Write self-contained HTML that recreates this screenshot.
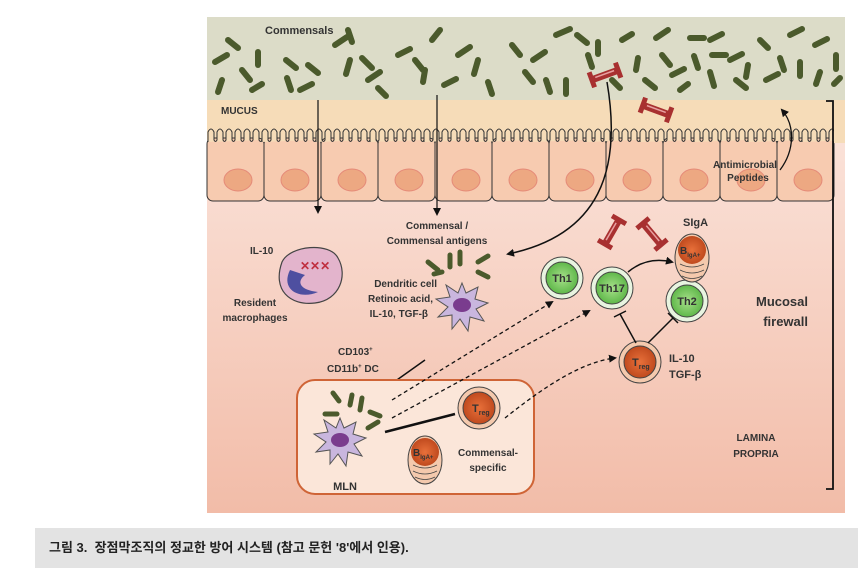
<!DOCTYPE html>
<html><head><meta charset="utf-8"><style>
html,body{margin:0;padding:0;background:#fff;width:858px;height:569px;overflow:hidden}
svg{position:absolute;left:0;top:0}
text{font-family:"Liberation Sans","Noto Sans CJK KR",sans-serif;font-weight:bold;fill:#333}
.cap{position:absolute;left:35px;top:528px;width:823px;height:40px;background:#e3e3e3;font-family:"Liberation Sans","Noto Sans CJK KR",sans-serif;font-size:13px;font-weight:bold;color:#222;line-height:40px;padding-left:14px;box-sizing:border-box}
</style></head><body>
<svg width="858" height="569" viewBox="0 0 858 569">
<defs>
<linearGradient id="lp" x1="0" y1="0" x2="0" y2="1"><stop offset="0" stop-color="#fdeee8"/><stop offset="1" stop-color="#f2bca8"/></linearGradient>
<radialGradient id="gr" cx="0.5" cy="0.5" r="0.5"><stop offset="0" stop-color="#a8e08a"/><stop offset="1" stop-color="#5fb84a"/></radialGradient>
<radialGradient id="or" cx="0.5" cy="0.5" r="0.5"><stop offset="0" stop-color="#e8703a"/><stop offset="1" stop-color="#c04a1e"/></radialGradient>
<clipPath id="clip"><rect x="207" y="17" width="638" height="496"/></clipPath>
<marker id="ah" markerWidth="8" markerHeight="8" refX="6" refY="4" orient="auto" markerUnits="userSpaceOnUse"><path d="M0,0 L8,4 L0,8 Z" fill="#111"/></marker>
<g id="ab"><path d="M-14,0 L14,0" stroke="#a83030" stroke-width="7"/><path d="M-14,-8 L-14,8 M14,-8 L14,8" stroke="#a83030" stroke-width="5"/><path d="M-10,-1 L10,-1" stroke="#e8a0a0" stroke-width="1.5"/></g>
<g id="dc"><path d="M0,-22 L4,-12 L16,-18 L13,-6 L26,-2 L14,4 L22,16 L8,12 L6,26 L-2,14 L-10,24 L-10,10 L-24,12 L-14,2 L-26,-6 L-12,-8 L-16,-20 L-4,-12 Z" fill="#c9b6de" stroke="#555" stroke-width="1"/><ellipse cx="0" cy="0" rx="9" ry="7" fill="#7a3c8e"/></g>
<path id="vil" d="M0,142 l0,-10 q3,-6 6,0 l0,8 q1.5,3 3,0 l0,-8 q3,-6 6,0 l0,8 q1.5,3 3,0 l0,-8 q3,-6 6,0 l0,8 q1.5,3 3,0 l0,-8 q3,-6 6,0 l0,8 q1.5,3 3,0 l0,-8 q3,-6 6,0 l0,8 q1.5,3 3,0 l0,-8 q3,-6 6,0 l0,8 q1.5,3 3,0" fill="#f6dcb8" stroke="#333" stroke-width="1"/>
</defs>
<rect x="207" y="17" width="638" height="496" fill="url(#lp)"/>
<rect x="207" y="17" width="638" height="84" fill="#dcdcc8"/>
<rect x="207" y="100" width="638" height="40" fill="#f6dcb8"/>
<g fill="#f7cbb0" stroke="#333" stroke-width="1">
<rect x="207" y="138" width="57" height="63" rx="6"/><rect x="264" y="138" width="57" height="63" rx="6"/><rect x="321" y="138" width="57" height="63" rx="6"/><rect x="378" y="138" width="57" height="63" rx="6"/><rect x="435" y="138" width="57" height="63" rx="6"/><rect x="492" y="138" width="57" height="63" rx="6"/><rect x="549" y="138" width="57" height="63" rx="6"/><rect x="606" y="138" width="57" height="63" rx="6"/><rect x="663" y="138" width="57" height="63" rx="6"/><rect x="720" y="138" width="57" height="63" rx="6"/><rect x="777" y="138" width="57" height="63" rx="6"/>
</g>
<g clip-path="url(#clip)">
<use href="#vil" x="208"/><use href="#vil" x="262"/><use href="#vil" x="316"/><use href="#vil" x="370"/><use href="#vil" x="424"/><use href="#vil" x="478"/><use href="#vil" x="532"/><use href="#vil" x="586"/><use href="#vil" x="640"/><use href="#vil" x="694"/><use href="#vil" x="748"/><use href="#vil" x="802"/>
</g>
<rect x="834" y="128" width="11" height="15" fill="#f6dcb8"/>
<g fill="#eda882" stroke="#e58a78" stroke-width="1">
<ellipse cx="238" cy="180" rx="14" ry="11"/><ellipse cx="295" cy="180" rx="14" ry="11"/><ellipse cx="352" cy="180" rx="14" ry="11"/><ellipse cx="409" cy="180" rx="14" ry="11"/><ellipse cx="466" cy="180" rx="14" ry="11"/><ellipse cx="523" cy="180" rx="14" ry="11"/><ellipse cx="580" cy="180" rx="14" ry="11"/><ellipse cx="637" cy="180" rx="14" ry="11"/><ellipse cx="694" cy="180" rx="14" ry="11"/><ellipse cx="751" cy="180" rx="14" ry="11"/><ellipse cx="808" cy="180" rx="14" ry="11"/>
</g>
<g stroke="#4b5a2c" stroke-width="6" stroke-linecap="round">
<path d="M228,40 l10,8"/><path d="M215,62 l12,-7"/><path d="M222,80 l-4,12"/><path d="M242,70 l8,10"/><path d="M258,52 l0,13"/><path d="M262,84 l-10,6"/><path d="M286,60 l10,8"/><path d="M287,78 l4,12"/><path d="M308,65 l10,8"/><path d="M300,90 l12,-6"/><path d="M335,45 l12,-8"/><path d="M348,30 l4,12"/><path d="M350,60 l-4,14"/><path d="M362,58 l10,10"/><path d="M368,80 l12,-8"/><path d="M378,88 l8,8"/><path d="M398,55 l12,-6"/><path d="M415,60 l8,10"/><path d="M425,70 l-2,12"/><path d="M432,40 l8,-10"/><path d="M444,85 l12,-6"/><path d="M458,55 l12,-8"/><path d="M478,60 l-4,14"/><path d="M488,82 l4,12"/><path d="M512,45 l8,10"/><path d="M525,72 l8,10"/><path d="M533,60 l12,-8"/><path d="M546,80 l4,12"/><path d="M556,35 l14,-6"/><path d="M566,80 l0,14"/><path d="M577,35 l10,8"/><path d="M588,55 l4,12"/><path d="M598,42 l0,12"/><path d="M612,80 l8,8"/><path d="M622,40 l10,-6"/><path d="M638,58 l-2,12"/><path d="M645,80 l10,8"/><path d="M656,38 l12,-8"/><path d="M662,55 l8,10"/><path d="M672,75 l12,-6"/><path d="M680,90 l8,-6"/><path d="M690,38 l14,0"/><path d="M694,56 l4,12"/><path d="M710,40 l12,-6"/><path d="M712,55 l14,0"/><path d="M710,72 l4,14"/><path d="M730,60 l12,-6"/><path d="M736,80 l10,8"/><path d="M748,65 l-2,12"/><path d="M760,40 l8,8"/><path d="M766,80 l12,-6"/><path d="M780,58 l4,12"/><path d="M790,35 l12,-6"/><path d="M800,62 l0,14"/><path d="M815,45 l12,-6"/><path d="M820,72 l-4,12"/><path d="M836,55 l0,14"/><path d="M834,84 l6,-6"/>
</g>
<use href="#ab" transform="translate(605,75) rotate(-20)"/>
<use href="#ab" transform="translate(656,110) rotate(20)"/>
<use href="#ab" transform="translate(612,232) rotate(-60)"/>
<use href="#ab" transform="translate(652,234) rotate(50)"/>
<text x="265" y="34" font-size="11">Commensals</text>
<text x="221" y="114" font-size="10">MUCUS</text>
<path d="M318,100 L318,212" stroke="#111" stroke-width="1.2" marker-end="url(#ah)"/>
<path d="M437,95 L437,214" stroke="#111" stroke-width="1.2" marker-end="url(#ah)"/>
<path d="M607,82 C622,170 600,235 508,254" fill="none" stroke="#111" stroke-width="1.5" marker-end="url(#ah)"/>
<path d="M780,170 C795,150 795,125 782,110" fill="none" stroke="#111" stroke-width="1.3" marker-end="url(#ah)"/>
<text x="745" y="168" font-size="10" text-anchor="middle">Antimicrobial</text>
<text x="748" y="181" font-size="10" text-anchor="middle">Peptides</text>
<text x="437" y="229" font-size="10" text-anchor="middle">Commensal /</text>
<text x="437" y="244" font-size="10" text-anchor="middle">Commensal antigens</text>
<text x="683" y="226" font-size="11">SIgA</text>
<path d="M282,262 C290,245 330,242 338,258 C348,275 340,300 315,303 C290,306 272,290 282,262 Z" fill="#e3b4cc" stroke="#444" stroke-width="1.2"/>
<path d="M290,270 C280,290 300,300 318,292 C300,290 296,282 305,275 Z" fill="#4e4fa0"/>
<text x="300" y="270" font-size="12" style="fill:#c03040">✕✕✕</text>
<text x="250" y="254" font-size="10">IL-10</text>
<text x="255" y="306" font-size="10" text-anchor="middle">Resident</text>
<text x="255" y="321" font-size="10" text-anchor="middle">macrophages</text>
<use href="#dc" transform="translate(462,305)"/>
<g stroke="#4b5a2c" stroke-width="5" stroke-linecap="round"><path d="M428,262 l10,8"/><path d="M450,255 l0,12"/><path d="M460,252 l0,12"/><path d="M478,262 l10,-6"/><path d="M478,272 l10,5"/><path d="M442,272 l-8,2"/></g>
<text x="437" y="287" font-size="10" text-anchor="end">Dendritic cell</text>
<text x="433" y="302" font-size="10" text-anchor="end">Retinoic acid,</text>
<text x="428" y="317" font-size="10" text-anchor="end">IL-10, TGF-β</text>
<text x="338" y="355" font-size="10">CD103<tspan font-size="6" dy="-4">+</tspan></text>
<text x="327" y="372" font-size="10">CD11b<tspan font-size="6" dy="-4">+</tspan><tspan dy="4"> DC</tspan></text>
<path d="M425,360 L380,392" stroke="#111" stroke-width="1.5" marker-end="url(#ah)"/>
<rect x="297" y="380" width="237" height="114" rx="18" fill="#fbe6d9" stroke="#cf6436" stroke-width="2"/>
<use href="#dc" transform="translate(340,440)"/>
<g stroke="#4b5a2c" stroke-width="5" stroke-linecap="round"><path d="M333,393 l6,8"/><path d="M350,405 l2,-10"/><path d="M362,398 l-2,12"/><path d="M325,414 l12,0"/><path d="M370,412 l10,4"/><path d="M368,428 l10,-6"/></g>
<text x="345" y="490" font-size="11" text-anchor="middle">MLN</text>
<path d="M385,432 L455,414" stroke="#111" stroke-width="2.5"/>
<circle cx="479" cy="408" r="21" fill="#f4c9ad" stroke="#444" stroke-width="1"/><circle cx="479" cy="408" r="16" fill="url(#or)" stroke="#444" stroke-width="1"/>
<text x="472" y="412" font-size="11">T<tspan font-size="7" dy="3">reg</tspan></text>
<ellipse cx="425" cy="460" rx="17" ry="24" fill="#f4c9ad" stroke="#444" stroke-width="1"/><ellipse cx="425" cy="452" rx="14" ry="14" fill="url(#or)"/>
<path d="M413,465 q12,6 24,0 M413,471 q12,6 24,0 M415,477 q10,5 20,0" stroke="#444" fill="none" stroke-width="0.8"/>
<text x="413" y="456" font-size="10">B<tspan font-size="6" dy="3">IgA+</tspan></text>
<text x="488" y="456" font-size="10" text-anchor="middle">Commensal-</text>
<text x="488" y="471" font-size="10" text-anchor="middle">specific</text>
<path d="M392,400 L552,302" stroke="#111" stroke-width="1.3" stroke-dasharray="4,3" marker-end="url(#ah)"/>
<path d="M392,418 L589,311" stroke="#111" stroke-width="1.3" stroke-dasharray="4,3" marker-end="url(#ah)"/>
<path d="M505,418 C540,390 580,362 615,358" fill="none" stroke="#111" stroke-width="1.3" stroke-dasharray="4,3" marker-end="url(#ah)"/>
<g stroke="#444" stroke-width="1">
<circle cx="562" cy="278" r="21" fill="#e8f4e0"/><circle cx="562" cy="278" r="16" fill="url(#gr)"/>
<circle cx="612" cy="288" r="21" fill="#e8f4e0"/><circle cx="612" cy="288" r="16" fill="url(#gr)"/>
<circle cx="687" cy="301" r="21" fill="#e8f4e0"/><circle cx="687" cy="301" r="16" fill="url(#gr)"/>
<circle cx="640" cy="362" r="21" fill="#f4c9ad"/><circle cx="640" cy="362" r="16" fill="url(#or)"/>
</g>
<text x="562" y="282" font-size="11" text-anchor="middle" font-weight="normal">Th1</text>
<text x="612" y="292" font-size="11" text-anchor="middle" font-weight="normal">Th17</text>
<text x="687" y="305" font-size="11" text-anchor="middle" font-weight="normal">Th2</text>
<text x="632" y="366" font-size="11">T<tspan font-size="7" dy="3">reg</tspan></text>
<ellipse cx="692" cy="258" rx="17" ry="24" fill="#f4c9ad" stroke="#444" stroke-width="1"/><ellipse cx="692" cy="250" rx="14" ry="14" fill="url(#or)"/>
<path d="M680,264 q12,6 24,0 M680,270 q12,6 24,0 M682,276 q10,5 20,0" stroke="#444" fill="none" stroke-width="0.8"/>
<text x="680" y="254" font-size="10">B<tspan font-size="6" dy="3">IgA+</tspan></text>
<path d="M628,272 C640,262 655,258 672,262" fill="none" stroke="#111" stroke-width="1.5" marker-end="url(#ah)"/>
<path d="M636,343 L620,314 M614,317 L626,311" stroke="#111" stroke-width="1.5"/>
<path d="M648,343 L673,318 M668,313 L678,323" stroke="#111" stroke-width="1.5"/>
<text x="669" y="362" font-size="11">IL-10</text>
<text x="669" y="378" font-size="11">TGF-β</text>
<text x="808" y="306" font-size="13" text-anchor="end">Mucosal</text>
<text x="808" y="326" font-size="13" text-anchor="end">firewall</text>
<text x="756" y="441" font-size="10" text-anchor="middle">LAMINA</text>
<text x="756" y="457" font-size="10" text-anchor="middle">PROPRIA</text>
<path d="M826,101 L833,101 L833,489 L826,489" fill="none" stroke="#111" stroke-width="1.8"/>
</svg>
<div class="cap">그림 3.&nbsp; 장점막조직의 정교한 방어 시스템 (참고 문헌 '8'에서 인용).</div>
</body></html>
